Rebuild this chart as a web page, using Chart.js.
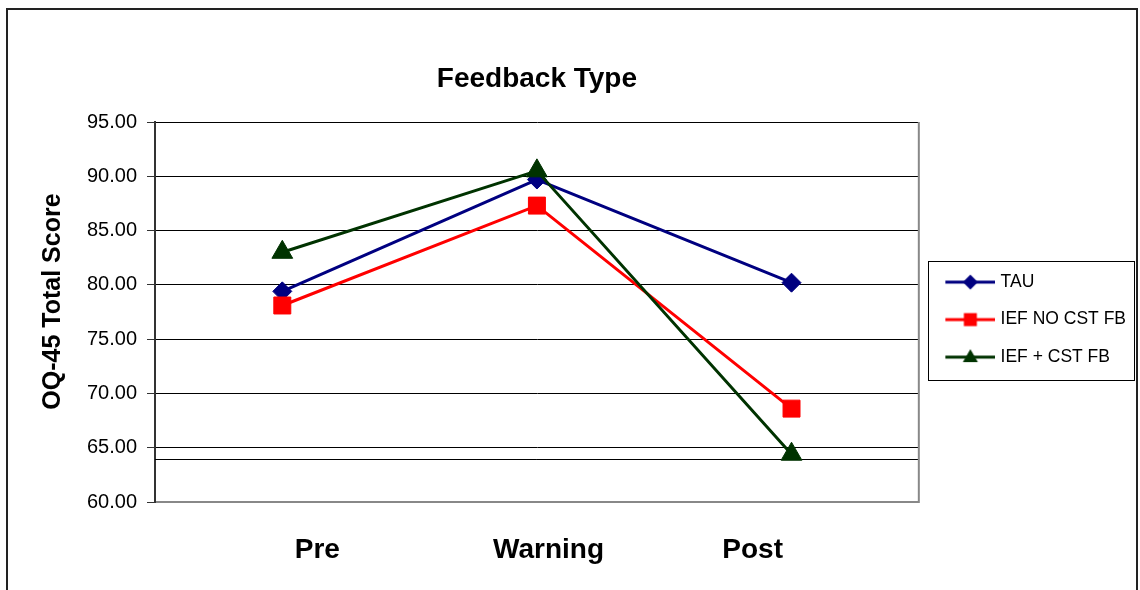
<!DOCTYPE html>
<html>
<head>
<meta charset="utf-8">
<script src="https://cdn.jsdelivr.net/npm/chart.js@4/dist/chart.umd.min.js"></script>
<style>
html,body{margin:0;padding:0;background:#fff;}
#wrap{position:relative;width:1140px;height:590px;}
</style>
</head>
<body>
<div id="wrap"><canvas id="c" width="1140" height="590"></canvas></div>
<script>
// ---- data ----
const categories = ['Pre', 'Warning', 'Post'];
const tauValues = [79.4, 89.7, 80.2];
const iefNoCstValues = [78.1, 87.3, 68.6];
const iefCstValues = [83.0, 90.5, 64.4];
const seriesNames = ['TAU', 'IEF NO CST FB', 'IEF + CST FB'];
const yTickMin = 60;
const yTickMax = 95;
const yTickStep = 5;
const cutoffValue = 64;

const FONT = "'Liberation Sans', Arial, sans-serif";
const colors = ['#000080', '#FF0000', '#003300'];
const styles = ['rectRot', 'rect', 'triangle'];
// label nudges (leading / trailing spaces) to mimic the original label placement
const labelPadLead = [9, 3, 0];
const labelPadTrail = [0, 0, 10];

function legendSample(color, style) {
  const cv = document.createElement('canvas');
  cv.width = 60; cv.height = 24;
  const ctx = cv.getContext('2d');
  ctx.strokeStyle = color; ctx.lineWidth = 3;
  ctx.beginPath(); ctx.moveTo(10, 12); ctx.lineTo(60, 12); ctx.stroke();
  ctx.fillStyle = color;
  const cx = 35, cy = 12;
  ctx.beginPath();
  if (style === 'rectRot') {
    const r = 7.5;
    ctx.moveTo(cx, cy - r); ctx.lineTo(cx + r, cy); ctx.lineTo(cx, cy + r); ctx.lineTo(cx - r, cy);
  } else if (style === 'rect') {
    ctx.rect(cx - 6.5, cy - 6.5, 13, 13);
  } else {
    ctx.moveTo(cx, cy - 8); ctx.lineTo(cx + 7.5, cy + 5); ctx.lineTo(cx - 7.5, cy + 5);
  }
  ctx.closePath(); ctx.fill();
  return cv;
}
const samples = colors.map((c, i) => legendSample(c, styles[i]));

const framePlugin = {
  id: 'frame',
  beforeDraw(chart) {
    const ctx = chart.ctx;
    ctx.save();
    ctx.strokeStyle = '#222'; ctx.lineWidth = 2;
    ctx.beginPath();
    ctx.moveTo(7, 600); ctx.lineTo(7, 9); ctx.lineTo(1137, 9); ctx.lineTo(1137, 600);
    ctx.stroke();
    ctx.restore();
  },
  beforeDatasetsDraw(chart) {
    const ctx = chart.ctx, a = chart.chartArea, y = chart.scales.y;
    ctx.save();
    const py = Math.round(y.getPixelForValue(cutoffValue)) + 0.5;
    ctx.strokeStyle = '#000'; ctx.lineWidth = 1;
    ctx.beginPath(); ctx.moveTo(a.left, py); ctx.lineTo(a.right, py); ctx.stroke();
    ctx.strokeStyle = '#888'; ctx.lineWidth = 2;
    ctx.beginPath(); ctx.moveTo(a.right, a.top); ctx.lineTo(a.right, a.bottom + 1); ctx.stroke();
    ctx.restore();
  },
  afterDraw(chart) {
    const lg = chart.legend;
    if (!lg || !lg.legendHitBoxes || !lg.legendHitBoxes.length) return;
    const hb = lg.legendHitBoxes;
    const top = hb[0].top - 12;
    const bottom = hb[hb.length - 1].top + hb[hb.length - 1].height + 14;
    const left = hb[0].left - 11;
    const ctx = chart.ctx;
    ctx.save();
    ctx.strokeStyle = '#000'; ctx.lineWidth = 1;
    ctx.strokeRect(Math.round(left) + 0.5, Math.round(top) + 0.5, Math.round(1134 - left), Math.round(bottom - top));
    ctx.restore();
  }
};

const datasetsData = [tauValues, iefNoCstValues, iefCstValues];
const radii = [9.5, 12, 12];
const chart = new Chart(document.getElementById('c'), {
  type: 'line',
  data: {
    labels: categories,
    datasets: datasetsData.map((vals, i) => ({
      label: seriesNames[i],
      data: vals,
      borderColor: colors[i],
      backgroundColor: colors[i],
      borderWidth: 3,
      pointStyle: styles[i],
      pointRadius: radii[i],
      pointHoverRadius: radii[i],
      pointBorderWidth: 1,
      pointBackgroundColor: colors[i],
      pointBorderColor: colors[i],
      tension: 0,
      order: 3 - i
    }))
  },
  options: {
    responsive: false,
    animation: false,
    events: [],
    layout: { padding: { left: 0, right: 4, top: 0, bottom: 0 } },
    plugins: {
      tooltip: { enabled: false },
      title: {
        display: true,
        text: 'Feedback Type',
        color: '#000',
        font: { family: FONT, size: 28, weight: 'bold' },
        padding: { top: 62, bottom: 26.4 },
        fullSize: false
      },
      legend: {
        display: true,
        position: 'right',
        fullSize: false,
        title: {
          display: true,
          text: ' ',
          font: { family: FONT, size: 1 },
          padding: { top: 7, bottom: 7 }
        },
        labels: {
          color: '#000',
          font: { family: FONT, size: 17.5 },
          usePointStyle: true,
          pointStyleWidth: 53,
          padding: 20,
          sort: (a, b) => a.datasetIndex - b.datasetIndex,
          generateLabels(chart) {
            const items = Chart.defaults.plugins.legend.labels.generateLabels(chart);
            items.forEach(it => { it.pointStyle = samples[it.datasetIndex]; });
            return items;
          }
        }
      }
    },
    scales: {
      x: {
        type: 'category',
        offset: true,
        afterFit(scale) { scale.height = 88; },
        grid: { display: false, drawTicks: false, tickLength: 0 },
        border: { display: true, color: '#888', width: 2 },
        ticks: {
          color: '#000',
          font: { family: FONT, size: 28, weight: 'bold' },
          padding: 31,
          maxRotation: 0,
          autoSkip: false,
          callback: function (v, i) {
            return ' '.repeat(labelPadLead[i] || 0) + categories[i] + ' '.repeat(labelPadTrail[i] || 0);
          }
        }
      },
      y: {
        min: yTickMin,
        max: yTickMax,
        afterFit(scale) { scale.width = 155; },
        grid: { color: '#000', lineWidth: 1, tickLength: 8, drawTicks: true, tickColor: '#333' },
        border: { display: true, color: '#333', width: 2 },
        ticks: {
          stepSize: yTickStep,
          color: '#000',
          font: { family: FONT, size: 20 },
          padding: 10,
          callback: v => Number(v).toFixed(2)
        },
        title: {
          display: true,
          text: '   OQ-45 Total Score',
          color: '#000',
          font: { family: FONT, size: 25, weight: 'bold' },
          padding: { top: 38, bottom: 0 }
        }
      }
    }
  },
  plugins: [framePlugin]
});
</script>
</body>
</html>
